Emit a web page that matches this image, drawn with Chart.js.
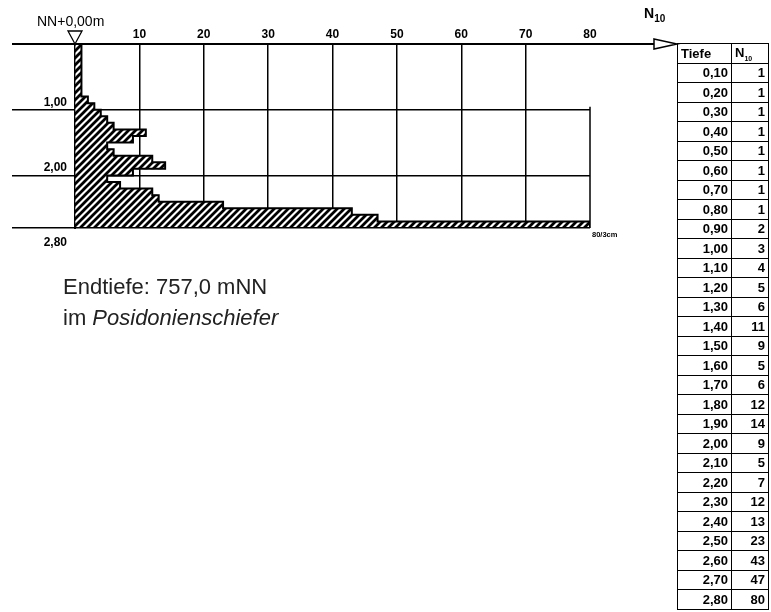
<!DOCTYPE html>
<html>
<head>
<meta charset="utf-8">
<script src="https://cdn.jsdelivr.net/npm/chart.js@4.4.1/dist/chart.umd.min.js"></script>
<style>
  body { margin: 0; background: #fff; font-family: "Liberation Sans", Arial, sans-serif; color: #000; }
  #wrap { position: relative; width: 771px; height: 612px; overflow: hidden; }
  #chartBox { position: absolute; left: 0; top: 0; width: 771px; height: 612px; }
  #nnLabel { position: absolute; left: 37px; top: 13px; font-size: 14px; line-height: 16px; }
  #nLabel { position: absolute; left: 644px; top: 5px; font-size: 14px; line-height: 16px; font-weight: bold; }
  #nLabel sub { font-size: 10px; }
  #note { position: absolute; left: 63px; top: 271px; font-size: 22px; line-height: 31px; color: #222; }
  #werte { position: absolute; left: 677px; top: 43px; width: 92px; border-collapse: collapse; table-layout: fixed;
           font-size: 13px; font-weight: bold; }
  #werte td, #werte th { border: 1.5px solid #000; padding: 0 3px; height: 18.5px; text-align: right; }
  #werte th { text-align: left; font-weight: bold; }
  #werte th sub { font-size: 7px; }
</style>
</head>
<body>
<div id="wrap">
  <div id="chartBox"><canvas id="ramm"></canvas></div>
  <div id="nnLabel">NN+0,00m</div>
  <div id="nLabel">N<sub>10</sub></div>
  <table id="werte"></table>
  <div id="note">Endtiefe: 757,0 mNN<br>im <i>Posidonienschiefer</i></div>
</div>
<script>
// Rammsondierung: Tiefe (m, Unterkante des 10-cm-Abschnitts) und Schlagzahl N10
const tiefen = [0.1, 0.2, 0.3, 0.4, 0.5, 0.6, 0.7, 0.8, 0.9, 1.0,
                1.1, 1.2, 1.3, 1.4, 1.5, 1.6, 1.7, 1.8, 1.9, 2.0,
                2.1, 2.2, 2.3, 2.4, 2.5, 2.6, 2.7, 2.8];
const n10 = [1, 1, 1, 1, 1, 1, 1, 1, 2, 3,
             4, 5, 6, 11, 9, 5, 6, 12, 14, 9,
             5, 7, 12, 13, 23, 43, 47, 80];
const abschnitt = 0.1;

const xTicks = [0, 10, 20, 30, 40, 50, 60, 70, 80];
const yTicks = [0, 1, 2, 2.8];
const yTickLabels = ["", "1,00", "2,00", "2,80"];

const schrift = "'Liberation Sans', Arial, sans-serif";

function fmt(v) {
  return v.toFixed(2).replace(".", ",");
}

// Schraffur wie im Bohrprofil
function makeHatch() {
  const c = document.createElement("canvas");
  c.width = 7;
  c.height = 7;
  const g = c.getContext("2d");
  g.fillStyle = "#fff";
  g.fillRect(0, 0, 7, 7);
  g.strokeStyle = "#000";
  g.lineWidth = 2.8;
  g.beginPath();
  g.moveTo(-1, 8); g.lineTo(8, -1);
  g.moveTo(-1, 1); g.lineTo(1, -1);
  g.moveTo(6, 8); g.lineTo(8, 6);
  g.stroke();
  return g.createPattern(c, "repeat");
}

const deko = {
  id: "deko",
  afterDraw(chart) {
    const { ctx, chartArea: a, scales: { x, y } } = chart;
    ctx.save();
    ctx.strokeStyle = "#000";

    // Achse nach rechts verlängern, offener Pfeil
    const tip = a.right + 87;
    ctx.lineWidth = 2;
    ctx.beginPath();
    ctx.moveTo(a.right, a.top);
    ctx.lineTo(tip - 23, a.top);
    ctx.stroke();
    ctx.lineWidth = 1.5;
    ctx.beginPath();
    ctx.moveTo(tip - 23, a.top - 5);
    ctx.lineTo(tip, a.top);
    ctx.lineTo(tip - 23, a.top + 5);
    ctx.closePath();
    ctx.fillStyle = "#fff";
    ctx.fill();
    ctx.stroke();

    // Linie bei 80 erst ab 1,00 m
    const x80 = x.getPixelForValue(80);
    ctx.lineWidth = 1.5;
    ctx.beginPath();
    ctx.moveTo(x80, y.getPixelForValue(1) - 3);
    ctx.lineTo(x80, a.bottom);
    ctx.stroke();

    // Ansatzpunkt
    const x0 = x.getPixelForValue(0);
    ctx.lineWidth = 1.3;
    ctx.beginPath();
    ctx.moveTo(x0 - 7, a.top - 13);
    ctx.lineTo(x0 + 7, a.top - 13);
    ctx.lineTo(x0, a.top);
    ctx.closePath();
    ctx.fillStyle = "#fff";
    ctx.fill();
    ctx.stroke();

    ctx.fillStyle = "#000";
    ctx.font = "bold 7.5px " + schrift;
    ctx.textBaseline = "middle";
    ctx.fillText("80/3cm", a.right + 2, a.bottom + 7);
    ctx.restore();
  },
};

function buildTable() {
  const t = document.getElementById("werte");
  let html = "<tr><th style='width:47px'>Tiefe</th><th>N<sub>10</sub></th></tr>";
  tiefen.forEach((d, i) => {
    html += "<tr><td>" + fmt(d) + "</td><td>" + n10[i] + "</td></tr>";
  });
  t.innerHTML = html;
}

function initChart() {
  const el = document.getElementById("ramm");
  const balken = tiefen.map((d, i) => ({ y: d - abschnitt / 2, x: n10[i] }));

  // Umriss der Stufenkurve aus denselben Werten
  const umriss = [{ x: 0, y: 0 }];
  tiefen.forEach((d, i) => {
    umriss.push({ x: n10[i], y: d - abschnitt });
    umriss.push({ x: n10[i], y: d });
  });
  umriss.push({ x: 0, y: tiefen[tiefen.length - 1] });

  new Chart(el, {
    type: "bar",
    data: {
      datasets: [
        {
          type: "line",
          label: "Umriss",
          data: umriss,
          borderColor: "#000",
          borderWidth: 2,
          pointRadius: 0,
          tension: 0,
          fill: false,
          order: 0,
        },
        {
          label: "N10",
          data: balken,
          backgroundColor: makeHatch(),
          borderWidth: 0,
          barPercentage: 1,
          categoryPercentage: 1,
          order: 1,
        },
      ],
    },
    options: {
      indexAxis: "y",
      responsive: true,
      maintainAspectRatio: false,
      animation: false,
      layout: { padding: { left: 12, right: 181, top: 28, bottom: 384 } },
      scales: {
        x: {
          type: "linear",
          position: "top",
          min: 0,
          max: 80,
          afterBuildTicks: (s) => { s.ticks = xTicks.map((v) => ({ value: v })); },
          afterFit: (s) => { s.height = 16; },
          ticks: {
            color: "#000",
            font: { size: 12, weight: "bold", family: schrift },
            padding: 2,
            callback: (v) => (v === 0 ? "" : String(v)),
          },
          grid: {
            color: (c) => (c.tick && c.tick.value > 0 && c.tick.value < 80 ? "#000" : "rgba(0,0,0,0)"),
            lineWidth: 1.5,
            drawTicks: false,
          },
          border: { display: false },
        },
        y: {
          type: "linear",
          reverse: true,
          min: 0,
          max: 2.8,
          offset: false,
          afterBuildTicks: (s) => { s.ticks = yTicks.map((v) => ({ value: v })); },
          afterFit: (s) => { s.width = 63; },
          ticks: {
            color: "#000",
            padding: -55,
            font: { size: 12, weight: "bold", lineHeight: 1.25, family: schrift },
            callback: (v, i) => {
              const t = yTickLabels[i];
              if (v === 2.8) return ["", "", t];
              return [t, ""];
            },
          },
          grid: {
            color: "#000",
            offset: false,
            lineWidth: (c) => (c.tick && c.tick.value === 0 ? 2 : 1.5),
            tickLength: 63,
          },
          border: { display: true, color: "#000", width: 2 },
        },
      },
      plugins: {
        legend: { display: false },
        tooltip: { enabled: false },
      },
    },
    plugins: [deko],
  });
}

buildTable();
initChart();
</script>
</body>
</html>
